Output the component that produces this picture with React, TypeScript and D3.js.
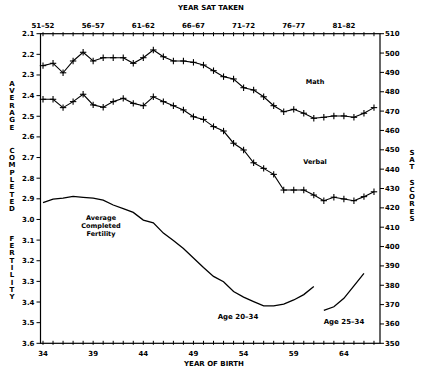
import React, { useEffect, useRef } from "react";
import * as d3 from "d3";

// year of birth (19xx), one point per year
const birthYears = [34, 35, 36, 37, 38, 39, 40, 41, 42, 43, 44, 45, 46, 47, 48, 49, 50,
  51, 52, 53, 54, 55, 56, 57, 58, 59, 60, 61, 62, 63, 64, 65, 66, 67];

const mathScores = [493.5, 494.7, 489.8, 495.9, 500.4, 495.9, 497.6, 497.6, 497.6, 494.7,
  497.6, 501.6, 498.1, 495.9, 495.9, 495.2, 493.8, 490.9, 487.8, 486.6, 482.1, 480.9,
  477.4, 472.8, 469.7, 470.9, 468.9, 466.3, 466.8, 467.5, 467.5, 466.8, 468.9, 471.8];

const verbalScores = [476.1, 476.1, 471.8, 474.9, 478.7, 473.2, 472.0, 474.9, 476.6, 474.0,
  472.8, 477.4, 474.9, 472.8, 470.6, 467.1, 465.7, 462.0, 459.7, 453.4, 449.9, 443.3,
  440.4, 437.3, 429.2, 429.2, 429.2, 426.6, 423.7, 425.5, 424.6, 423.7, 425.8, 428.3];

// average completed fertility, women aged 20-34 (born 34..61)
const fert2034Years = [34, 35, 36, 37, 38, 39, 40, 41, 42, 43, 44, 45, 46, 47, 48, 49, 50,
  51, 52, 53, 54, 55, 56, 57, 58, 59, 60, 61];
const fert2034 = [2.918, 2.901, 2.897, 2.888, 2.893, 2.897, 2.906, 2.930, 2.947, 2.966,
  3.003, 3.016, 3.066, 3.102, 3.141, 3.187, 3.233, 3.276, 3.302, 3.349, 3.376, 3.398,
  3.419, 3.419, 3.410, 3.390, 3.364, 3.325];

// women aged 25-34 (born 62..66)
const fert2534Years = [62, 63, 64, 65, 66];
const fert2534 = [3.440, 3.423, 3.382, 3.322, 3.261];

const birthTickLabels = [34, 39, 44, 49, 54, 59, 64];
const satYearLabels = ["51\u201352", "56\u201357", "61\u201362", "66\u201367", "71\u201372", "76\u201377", "81\u201382"];
const fertTicks = [2.1, 2.2, 2.3, 2.4, 2.5, 2.6, 2.7, 2.8, 2.9, 3.0, 3.1, 3.2, 3.3, 3.4, 3.5, 3.6];
const satTicks = [350, 360, 370, 380, 390, 400, 410, 420, 430, 440, 450, 460, 470, 480, 490, 500, 510];

const FONT = "'DejaVu Sans', sans-serif";

export default function App() {
  const ref = useRef<SVGSVGElement>(null);

  useEffect(() => {
    const svg = d3.select(ref.current);
    svg.selectAll("*").remove();

    const left = 40.5, right = 380, top = 33.7, bottom = 343.3;

    const x = d3.scaleLinear().domain([33.75, 67.6]).range([left, right]);
    const yFert = d3.scaleLinear().domain([2.1, 3.6]).range([top, bottom]);
    const ySat = d3.scaleLinear().domain([350, 510]).range([bottom, top]);

    // frame
    svg.append("rect")
      .attr("x", left).attr("y", top)
      .attr("width", right - left).attr("height", bottom - top)
      .attr("fill", "none").attr("stroke", "#000").attr("stroke-width", 1.2);

    // year ticks top and bottom
    svg.selectAll(".xt").data(birthYears).join("line")
      .attr("x1", d => x(d)).attr("x2", d => x(d))
      .attr("y1", bottom - 2.5).attr("y2", bottom + 1.5)
      .attr("stroke", "#000").attr("stroke-width", 1);
    svg.selectAll(".xtt").data(birthYears).join("line")
      .attr("x1", d => x(d)).attr("x2", d => x(d))
      .attr("y1", top - 1.5).attr("y2", top + 2.5)
      .attr("stroke", "#000").attr("stroke-width", 1);

    const txt = (sel: any) => sel
      .attr("font-family", FONT).attr("font-weight", "bold")
      .attr("font-size", 7).attr("fill", "#000");

    svg.append("g").selectAll("text").data(birthTickLabels).join("text")
      .attr("x", d => x(d)).attr("y", 356)
      .attr("text-anchor", "middle")
      .text(d => d).call(txt);

    svg.append("g").selectAll("text").data(satYearLabels).join("text")
      .attr("x", (d, i) => x(birthTickLabels[i])).attr("y", 27.5)
      .attr("text-anchor", "middle")
      .text(d => d).call(txt);

    // left fertility axis
    svg.append("g").selectAll("line").data(fertTicks).join("line")
      .attr("x1", left - 4).attr("x2", left)
      .attr("y1", d => yFert(d)).attr("y2", d => yFert(d))
      .attr("stroke", "#000");
    svg.append("g").selectAll("text").data(fertTicks).join("text")
      .attr("x", 34.5).attr("y", d => yFert(d) + 2.5)
      .attr("text-anchor", "end")
      .text(d => d3.format(".1f")(d)).call(txt);

    // right SAT axis
    svg.append("g").selectAll("line").data(satTicks).join("line")
      .attr("x1", right).attr("x2", right + 4)
      .attr("y1", d => ySat(d)).attr("y2", d => ySat(d))
      .attr("stroke", "#000");
    svg.append("g").selectAll("text").data(satTicks).join("text")
      .attr("x", 385).attr("y", d => ySat(d) + 2.5)
      .attr("text-anchor", "start")
      .text(d => d).call(txt);

    // axis titles
    svg.append("text").attr("x", 211).attr("y", 10).attr("text-anchor", "middle")
      .text("YEAR SAT TAKEN").call(txt);
    svg.append("text").attr("x", 214).attr("y", 366).attr("text-anchor", "middle")
      .text("YEAR OF BIRTH").call(txt);

    const stack = (words: string[], starts: number[], cx: number, step: number) => {
      words.forEach((w, wi) => {
        w.split("").forEach((ch, ci) => {
          svg.append("text")
            .attr("x", cx).attr("y", starts[wi] + ci * step + 2.5)
            .attr("text-anchor", "middle")
            .text(ch).call(txt);
        });
      });
    };
    stack(["AVERAGE", "COMPLETED", "FERTILITY"], [83, 150, 238], 12, 7.35);
    stack(["SAT", "SCORES"], [152, 182], 412, 7.3);

    // SAT lines with + markers
    const satLine = d3.line<number>()
      .x((d, i) => x(birthYears[i]))
      .y(d => ySat(d));

    [mathScores, verbalScores].forEach(series => {
      svg.append("path")
        .attr("d", satLine(series))
        .attr("fill", "none").attr("stroke", "#000").attr("stroke-width", 1.1);
      const m = svg.append("g");
      m.selectAll(".h").data(series).join("line")
        .attr("x1", (d, i) => x(birthYears[i]) - 3.2).attr("x2", (d, i) => x(birthYears[i]) + 3.2)
        .attr("y1", d => ySat(d)).attr("y2", d => ySat(d))
        .attr("stroke", "#000").attr("stroke-width", 1.1);
      m.selectAll(".v").data(series).join("line")
        .attr("x1", (d, i) => x(birthYears[i])).attr("x2", (d, i) => x(birthYears[i]))
        .attr("y1", d => ySat(d) - 3.2).attr("y2", d => ySat(d) + 3.2)
        .attr("stroke", "#000").attr("stroke-width", 1.1);
    });

    // fertility curves
    const f1 = d3.line<number>().x((d, i) => x(fert2034Years[i])).y(d => yFert(d));
    svg.append("path").attr("d", f1(fert2034))
      .attr("fill", "none").attr("stroke", "#000").attr("stroke-width", 1.3);
    const f2 = d3.line<number>().x((d, i) => x(fert2534Years[i])).y(d => yFert(d));
    svg.append("path").attr("d", f2(fert2534))
      .attr("fill", "none").attr("stroke", "#000").attr("stroke-width", 1.3);

    // annotations
    const ann = (s: string, ax: number, ay: number, size: number) =>
      svg.append("text").attr("x", ax).attr("y", ay).attr("text-anchor", "middle")
        .text(s).call(txt).attr("font-size", size);
    ann("Math", 315, 83.5, 6.5);
    ann("Verbal", 315, 164, 6.5);
    ann("Average", 101, 219.5, 6.5);
    ann("Completed", 101, 227.5, 6.5);
    ann("Fertility", 101, 235.5, 6.5);
    ann("Age 20\u201334", 238, 318.5, 7);
    ann("Age 25\u201334", 344, 323.5, 7);
  }, []);

  return (
    <svg ref={ref} width={422} height={369}
      style={{ position: "absolute", left: 0, top: 0, background: "#fff" }} />
  );
}
